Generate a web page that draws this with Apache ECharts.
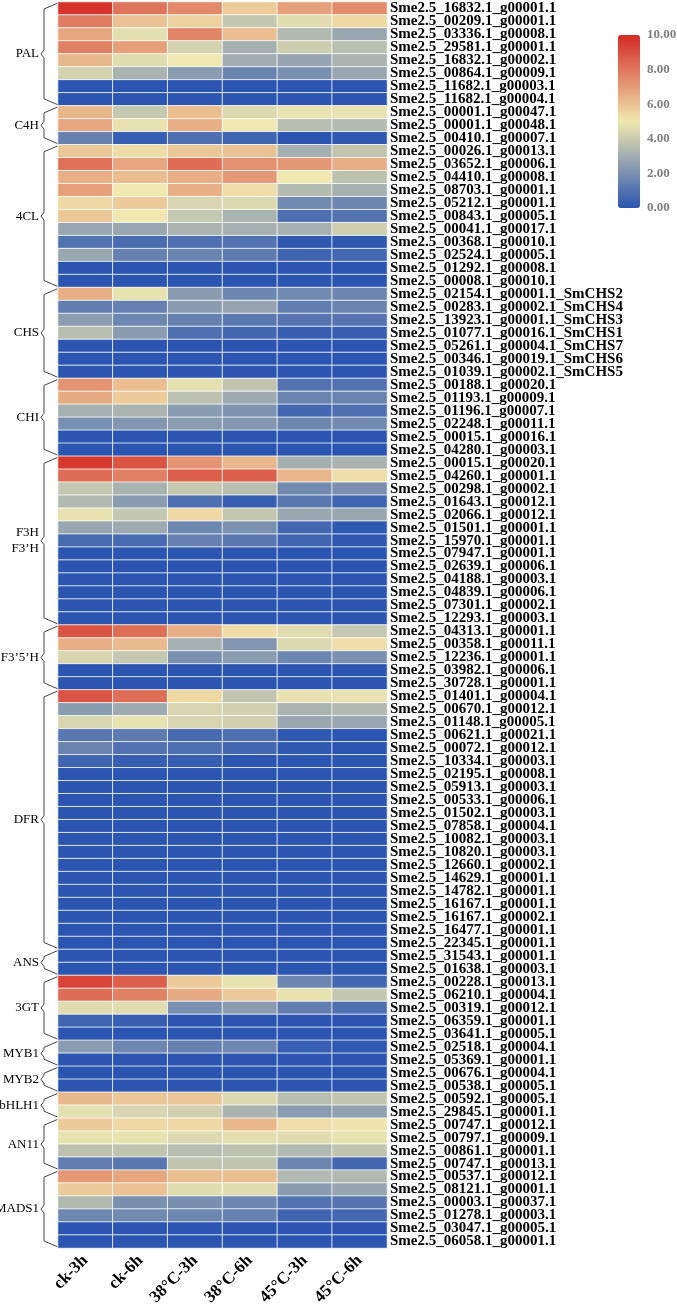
<!DOCTYPE html>
<html><head><meta charset="utf-8">
<script src="https://cdn.jsdelivr.net/npm/echarts@6/dist/echarts.min.js"></script>
<style>html,body{margin:0;padding:0;background:#fff}#c{width:677px;height:1304px}</style>
</head><body><div id="c"></div>
<script>
const conditions = ['ck-3h','ck-6h','38°C-3h','38°C-6h','45°C-3h','45°C-6h'];
const genes = [
'Sme2.5_16832.1_g00001.1','Sme2.5_00209.1_g00001.1','Sme2.5_03336.1_g00008.1','Sme2.5_29581.1_g00001.1',
'Sme2.5_16832.1_g00002.1','Sme2.5_00864.1_g00009.1','Sme2.5_11682.1_g00003.1','Sme2.5_11682.1_g00004.1',
'Sme2.5_00001.1_g00047.1','Sme2.5_00001.1_g00048.1','Sme2.5_00410.1_g00007.1',
'Sme2.5_00026.1_g00013.1','Sme2.5_03652.1_g00006.1','Sme2.5_04410.1_g00008.1','Sme2.5_08703.1_g00001.1',
'Sme2.5_05212.1_g00001.1','Sme2.5_00843.1_g00005.1','Sme2.5_00041.1_g00017.1','Sme2.5_00368.1_g00010.1',
'Sme2.5_02524.1_g00005.1','Sme2.5_01292.1_g00008.1','Sme2.5_00008.1_g00010.1',
'Sme2.5_02154.1_g00001.1_SmCHS2','Sme2.5_00283.1_g00002.1_SmCHS4','Sme2.5_13923.1_g00001.1_SmCHS3',
'Sme2.5_01077.1_g00016.1_SmCHS1','Sme2.5_05261.1_g00004.1_SmCHS7','Sme2.5_00346.1_g00019.1_SmCHS6',
'Sme2.5_01039.1_g00002.1_SmCHS5',
'Sme2.5_00188.1_g00020.1','Sme2.5_01193.1_g00009.1','Sme2.5_01196.1_g00007.1','Sme2.5_02248.1_g00011.1',
'Sme2.5_00015.1_g00016.1','Sme2.5_04280.1_g00003.1',
'Sme2.5_00015.1_g00020.1','Sme2.5_04260.1_g00001.1','Sme2.5_00298.1_g00002.1','Sme2.5_01643.1_g00012.1',
'Sme2.5_02066.1_g00012.1','Sme2.5_01501.1_g00001.1','Sme2.5_15970.1_g00001.1','Sme2.5_07947.1_g00001.1',
'Sme2.5_02639.1_g00006.1','Sme2.5_04188.1_g00003.1','Sme2.5_04839.1_g00006.1','Sme2.5_07301.1_g00002.1',
'Sme2.5_12293.1_g00003.1',
'Sme2.5_04313.1_g00001.1','Sme2.5_00358.1_g00011.1','Sme2.5_12236.1_g00001.1','Sme2.5_03982.1_g00006.1',
'Sme2.5_30728.1_g00001.1',
'Sme2.5_01401.1_g00004.1','Sme2.5_00670.1_g00012.1','Sme2.5_01148.1_g00005.1','Sme2.5_00621.1_g00021.1',
'Sme2.5_00072.1_g00012.1','Sme2.5_10334.1_g00003.1','Sme2.5_02195.1_g00008.1','Sme2.5_05913.1_g00003.1',
'Sme2.5_00533.1_g00006.1','Sme2.5_01502.1_g00003.1','Sme2.5_07858.1_g00004.1','Sme2.5_10082.1_g00003.1',
'Sme2.5_10820.1_g00003.1','Sme2.5_12660.1_g00002.1','Sme2.5_14629.1_g00001.1','Sme2.5_14782.1_g00001.1',
'Sme2.5_16167.1_g00001.1','Sme2.5_16167.1_g00002.1','Sme2.5_16477.1_g00001.1','Sme2.5_22345.1_g00001.1',
'Sme2.5_31543.1_g00001.1','Sme2.5_01638.1_g00003.1',
'Sme2.5_00228.1_g00013.1','Sme2.5_06210.1_g00004.1','Sme2.5_00319.1_g00012.1','Sme2.5_06359.1_g00001.1',
'Sme2.5_03641.1_g00005.1',
'Sme2.5_02518.1_g00004.1','Sme2.5_05369.1_g00001.1',
'Sme2.5_00676.1_g00004.1','Sme2.5_00538.1_g00005.1',
'Sme2.5_00592.1_g00005.1','Sme2.5_29845.1_g00001.1',
'Sme2.5_00747.1_g00012.1','Sme2.5_00797.1_g00009.1','Sme2.5_00861.1_g00001.1','Sme2.5_00747.1_g00013.1',
'Sme2.5_00537.1_g00012.1','Sme2.5_08121.1_g00001.1','Sme2.5_00003.1_g00037.1','Sme2.5_01278.1_g00003.1',
'Sme2.5_03047.1_g00005.1','Sme2.5_06058.1_g00001.1'
];
const groupNames = ['PAL','C4H','4CL','CHS','CHI','F3H\nF3’H','F3’5’H','DFR','ANS','3GT','MYB1','MYB2','bHLH1','AN11','MADS1'];
const groupSizes = [8,3,11,7,6,13,5,20,2,5,2,2,2,4,6];
const colorTicks = [0,2,4,6,8,10];

// expression values per condition (rows in gene order)
const ck3h = [9.8,7.8,6.7,7.7,6.3,4.3,0,0, 6.3,6.7,1.5, 5.9,8.1,6.5,6.9,5.4,5.9,2.8,1.0,2.8,0,0,
 6.5,1.4,2.4,3.6,0,0,0, 7.2,6.6,3.1,2.0,0,0, 9.6,8.2,3.9,3.4,4.8,2.8,0.7,0,0,0,0,0,0,
 8.9,6.5,4.4,0,0, 8.9,2.4,4.4,1.2,1.6,0.5,0,0,0,0,0,0,0,0,0,0,0,0,0,0, 0,0, 9.3,8.2,4.6,0.5,0,
 2.4,0, 0,0, 6.3,4.7, 5.8,4.8,3.7,1.4, 7.1,5.8,3.4,1.7,0,0];
const ck6h = [8.0,6.0,4.7,6.9,4.6,3.2,0,0, 3.9,4.8,0.3, 5.3,6.7,6.1,5.0,5.8,5.0,2.8,0.8,1.5,0,0,
 4.8,1.5,1.7,2.4,0,0,0, 6.1,5.8,3.2,2.2,0,0, 8.9,7.7,3.2,2.4,3.9,2.9,0.7,0,0,0,0,0,0,
 8.2,6.2,3.9,0,0, 8.2,2.9,4.8,1.3,1.0,0.3,0,0,0,0,0,0,0,0,0,0,0,0,0,0, 0,0, 8.6,7.7,4.6,0.3,0,
 1.7,0, 0,0, 5.9,4.4, 5.4,4.8,3.8,1.2, 6.7,6.0,2.0,1.8,0,0];
const c38_3h = [7.5,5.6,7.6,4.3,5.0,2.4,0,0, 6.1,6.5,0.9, 5.9,8.2,6.5,6.5,4.4,3.9,3.2,0.9,1.6,0,0,
 2.4,2.4,1.5,0.9,0,0,0, 4.7,3.7,2.4,2.4,0,0, 7.2,8.6,3.9,0.9,5.4,1.7,1.5,0,0,0,0,0,0,
 6.5,3.1,2.0,0,0, 5.4,4.4,4.4,0.7,0.9,0.3,0,0,0,0,0,0,0,0,0,0,0,0,0,0, 0,0, 5.8,6.6,2.0,0,0,
 1.5,0, 0,0, 5.9,4.2, 5.4,4.5,3.6,3.8, 6.1,4.6,2.0,1.7,0,0];
const c38_6h = [5.8,3.9,6.1,3.1,3.0,1.6,0,0, 4.5,5.0,0.5, 6.0,7.3,7.1,5.3,4.5,3.2,3.1,1.0,1.3,0,0,
 1.7,2.7,1.2,0.6,0,0,0, 3.8,2.9,2.1,2.2,0,0, 6.3,8.6,3.6,0.3,3.9,2.0,1.2,0,0,0,0,0,0,
 5.3,2.2,2.4,0,0, 3.8,4.2,4.2,0.9,0.6,0,0,0,0,0,0,0,0,0,0,0,0,0,0,0, 0,0, 4.8,5.8,2.4,0,0,
 1.7,0, 0,0, 4.5,3.2, 6.3,4.7,3.7,3.8, 6.1,4.6,1.7,1.5,0,0];
const c45_3h = [6.9,4.6,3.4,4.1,2.7,2.0,0,0, 4.8,3.6,0, 3.1,7.1,5.0,3.5,1.8,0.9,3.1,0.1,0.5,0,0,
 1.8,1.4,1.1,0.3,0,0,0, 1.0,1.6,0.6,1.7,0,0, 3.1,6.3,1.8,1.2,2.8,0.6,0.5,0,0,0,0,0,0,
 4.6,4.5,1.7,0,0, 4.8,3.2,2.8,0.1,0.1,0,0,0,0,0,0,0,0,0,0,0,0,0,0,0, 0,0, 1.7,4.8,1.4,0,0,
 0.3,0, 0,0, 3.6,2.4, 5.3,4.6,3.4,1.7, 3.4,2.4,1.0,0.5,0,0];
const c45_6h = [7.4,5.4,2.8,3.6,3.2,2.8,0,0, 4.8,3.5,0.1, 3.8,6.5,3.7,3.1,1.7,1.0,4.1,0.1,0.6,0,0,
 1.7,1.6,1.1,0.3,0,0,0, 1.0,1.6,0.9,1.8,0,0, 3.2,5.3,2.0,0.5,2.8,0.1,0.1,0,0,0,0,0,0,
 3.9,5.3,2.0,0,0, 4.8,3.4,2.8,0,0,0,0,0,0,0,0,0,0,0,0,0,0,0,0,0, 0,0, 0.6,3.9,0.9,0,0,
 0.1,0, 0,0, 3.8,2.6, 5.1,4.8,3.8,0.6, 3.4,2.7,1.1,0.6,0,0];

const columns = [ck3h, ck6h, c38_3h, c38_6h, c45_3h, c45_6h];
const data = [];
columns.forEach((col, ci) => col.forEach((v, ri) => data.push([ci, ri, v])));

const SERIF = '"Liberation Serif","Times New Roman",serif';
const chart = echarts.init(document.getElementById('c'), null, {renderer: 'canvas'});
chart.setOption({
  animation: false,
  backgroundColor: '#fff',
  grid: [
    {left: 58, top: 2, width: 329, height: 1246, outerBoundsMode: 'none', containLabel: false},
    {left: 618, top: 35, width: 22, height: 173, outerBoundsMode: 'none', containLabel: false}
  ],
  xAxis: [
    {type: 'category', data: conditions, gridIndex: 0,
     axisLine: {show: false}, axisTick: {show: false},
     axisLabel: {rotate: 45, interval: 0, margin: 10, color: '#000',
       fontFamily: SERIF, fontWeight: 'bold', fontSize: 17}},
    {type: 'value', gridIndex: 1, show: false, min: 0, max: 1}
  ],
  yAxis: [
    {type: 'category', data: genes, gridIndex: 0, inverse: true, position: 'right',
     axisLine: {show: false}, axisTick: {show: false},
     axisLabel: {interval: 0, margin: 3, color: '#000',
       fontFamily: SERIF, fontWeight: 'bold', fontSize: 15}},
    {type: 'value', gridIndex: 1, min: 0, max: 10, interval: 2, position: 'right',
     axisLine: {show: false}, axisTick: {show: false}, splitLine: {show: false},
     axisLabel: {margin: 7, color: '#7f7f7f', fontFamily: SERIF, fontWeight: 'bold', fontSize: 13,
       formatter: v => v.toFixed(2)}}
  ],
  visualMap: {
    type: 'continuous', min: 0, max: 10, calculable: false, show: true,
    left: 618, top: 35, itemWidth: 22, itemHeight: 173, padding: 0,
    text: null, seriesIndex: 0,
    inRange: {color: ['#2b55b0', '#f0e8b0', '#d42a24']}
  },
  series: [{
    type: 'heatmap', xAxisIndex: 0, yAxisIndex: 0, data: data,
    itemStyle: {borderColor: '#ffffff', borderWidth: 0.8},
    emphasis: {disabled: true}
  }]
});

// group braces and labels
const graphics = [];
let start = 0;
const xR = 58, xV = 44, xN = 41;
groupNames.forEach((name, gi) => {
  const end = start + groupSizes[gi] - 1;
  const c0 = chart.convertToPixel({yAxisIndex: 0}, genes[start]);
  const c1 = chart.convertToPixel({yAxisIndex: 0}, genes[end]);
  const step = chart.convertToPixel({yAxisIndex: 0}, genes[1]) - chart.convertToPixel({yAxisIndex: 0}, genes[0]);
  const T = c0 - step / 2, B = c1 + step / 2, M = (T + B) / 2;
  graphics.push({
    type: 'polyline',
    shape: {points: [[xR, T + 1], [xV, T + 7], [xV, M - 4], [xN, M], [xV, M + 4], [xV, B - 7], [xR, B - 1]]},
    style: {stroke: '#444', lineWidth: 1, fill: null}
  });
  graphics.push({
    type: 'text', x: 39, y: M,
    style: {text: name, fill: '#000', font: '13px ' + SERIF, align: 'right', verticalAlign: 'middle', lineHeight: 16}
  });
  start = end + 1;
});
chart.setOption({graphic: graphics});
</script>
</body></html>
